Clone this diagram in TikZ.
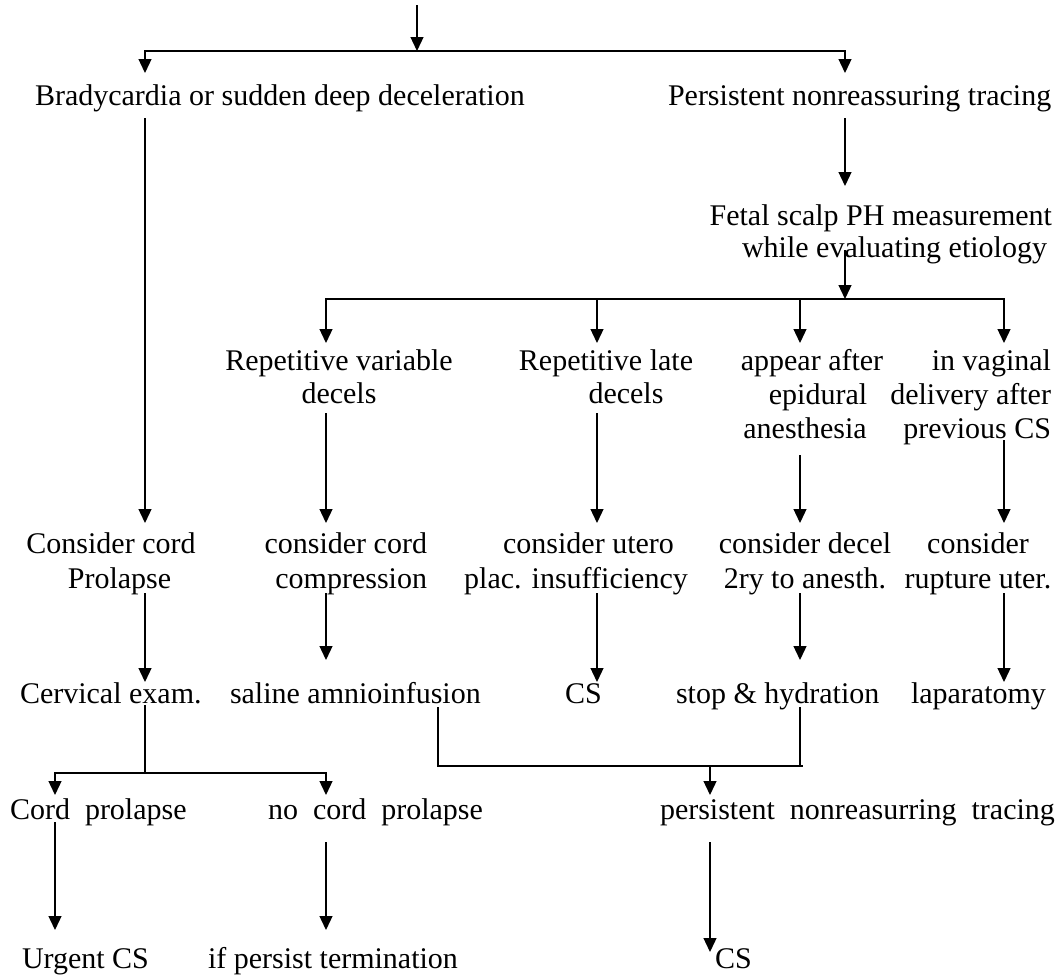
\documentclass[tikz,border=0pt]{standalone}
\usepackage{fontspec}
\setmainfont{Liberation Serif}
\usetikzlibrary{arrows.meta}
\begin{document}
\begin{tikzpicture}[x=1pt,y=-1pt,
  txt/.style={inner sep=0pt,outer sep=0pt,font=\fontsize{30}{33}\selectfont},
  txtw/.style={inner sep=0pt,outer sep=0pt,font=\fontsize{30}{35}\selectfont},
  ln/.style={line width=1.3pt},
  arr/.style={line width=1.3pt,-{Triangle[length=14pt,width=13pt]}}]
\useasboundingbox[fill=white] (0,0) rectangle (1058,977);

% ---------- nodes (multi-line nodes are placed by their last baseline) ----------
\node[txt,anchor=base west] (brady) at (35,105) {Bradycardia or sudden deep deceleration};
\node[txt,anchor=base west] (pers) at (668,105) {Persistent nonreassuring tracing};
\node[txt,anchor=base east,align=right,font=\fontsize{30}{32}\selectfont] (fetal) at (1052,257) {Fetal scalp PH measurement\\while evaluating etiology\hspace*{5pt}};

\node[txt,anchor=base,align=center] (rv) at (339,403) {Repetitive variable\\decels};
\node[txt,anchor=base,align=center] (rl) at (606,403) {Repetitive late\\\hspace*{40pt}decels};
\node[txt,anchor=base,align=center,font=\fontsize{30}{34}\selectfont] (ae) at (812,438) {appear after\\\hspace*{12pt}epidural\\anesthesia\hspace*{14pt}};
\node[txt,anchor=base east,align=right,font=\fontsize{30}{34}\selectfont] (iv) at (1051,438) {in vaginal\\delivery after\\previous CS};

\node[txtw,anchor=base,align=center] (ccp) at (111,588) {Consider cord\\\hspace*{17pt}Prolapse};
\node[txtw,anchor=base east,align=right] (ccc) at (427,588) {consider cord\\compression};
\node[txtw,anchor=base,align=center] (cu) at (576,588) {\hspace*{25pt}consider utero\\plac. insufficiency};
\node[txtw,anchor=base,align=center] (cd) at (805,588) {consider decel\\2ry to anesth.};
\node[txtw,anchor=base,align=center] (cr) at (978,588) {consider\\rupture uter.};

\node[txt,anchor=base west] (cerv) at (20,703) {Cervical exam.};
\node[txt,anchor=base west] (saline) at (230,703) {saline amnioinfusion};
\node[txt,anchor=base west] (cs1) at (565,703) {CS};
\node[txt,anchor=base west] (stop) at (676,703) {stop \& hydration};
\node[txt,anchor=base west] (lapa) at (911,703) {laparatomy};

\node[txt,anchor=base west] (cordp) at (10,819) {Cord\ \ prolapse};
\node[txt,anchor=base west] (nocord) at (268,819) {no\ \ cord\ \ prolapse};
\node[txt,anchor=base west] (pnt) at (660,819) {persistent\ \ nonreasurring\ \ tracing};

\node[txt,anchor=base west] (urgent) at (22,968) {Urgent CS};
\node[txt,anchor=base west] (term) at (208,968) {if persist termination};
\node[txt,anchor=base west] (cs2) at (715,968) {CS};

% ---------- connector points ----------
\coordinate (top) at (417,5);
\coordinate (jTop) at (417,51);
\coordinate (inB) at (145,73);
\coordinate (inP) at (845,73);
\coordinate (outP) at (845,118);
\coordinate (inF) at (845,186);
\coordinate (outF) at (845,250);
\coordinate (jF) at (845,299);
\coordinate (jRL) at (597,299);
\coordinate (jAE) at (800,299);
\coordinate (inRV) at (326,343);
\coordinate (inRL) at (597,343);
\coordinate (inAE) at (800,343);
\coordinate (inIV) at (1004,343);

\coordinate (outB) at (145,118);
\coordinate (inCCP) at (145,523);
\coordinate (outRV) at (326,413);
\coordinate (inCCC) at (326,523);
\coordinate (outRL) at (597,413);
\coordinate (inCU) at (597,523);
\coordinate (outAE) at (800,455);
\coordinate (inCD) at (800,523);
\coordinate (outIV) at (1004,440);
\coordinate (inCR) at (1004,523);

\coordinate (outCCP) at (145,593);
\coordinate (inCerv) at (145,682);
\coordinate (outCCC) at (326,593);
\coordinate (inSal) at (326,660);
\coordinate (outCU) at (597,593);
\coordinate (inCS1) at (597,682);
\coordinate (outCD) at (800,593);
\coordinate (inStop) at (800,660);
\coordinate (outCR) at (1004,593);
\coordinate (inLapa) at (1004,682);

\coordinate (outCerv) at (145,705);
\coordinate (jC) at (145,773);
\coordinate (inCordp) at (55,795);
\coordinate (inNoc) at (326,795);
\coordinate (outSal) at (438,707);
\coordinate (jS2) at (803,766);
\coordinate (outStop) at (800,707);
\coordinate (jS3) at (800,766);
\coordinate (jPN) at (710,766);
\coordinate (inPnt) at (710,795);

\coordinate (outCordp) at (55,822);
\coordinate (inUrg) at (55,930);
\coordinate (outNoc) at (326,842);
\coordinate (inTerm) at (326,930);
\coordinate (outPnt) at (710,842);
\coordinate (inCS2) at (710,952);

% ---------- connectors ----------
\draw[arr] (top) -- (jTop);
\draw[arr] (jTop) -| (inB);
\draw[arr] (jTop) -| (inP);
\draw[arr] (outP) -- (inF);
\draw[arr] (outF) -- (jF);
\draw[arr] (jF) -| (inRV);
\draw[arr] (jF) -| (inIV);
\draw[arr] (jRL) -- (inRL);
\draw[arr] (jAE) -- (inAE);

\draw[arr] (outB) -- (inCCP);
\draw[arr] (outRV) -- (inCCC);
\draw[arr] (outRL) -- (inCU);
\draw[arr] (outAE) -- (inCD);
\draw[arr] (outIV) -- (inCR);

\draw[arr] (outCCP) -- (inCerv);
\draw[arr] (outCCC) -- (inSal);
\draw[arr] (outCU) -- (inCS1);
\draw[arr] (outCD) -- (inStop);
\draw[arr] (outCR) -- (inLapa);

\draw[ln] (outCerv) -- (jC);
\draw[arr] (jC) -| (inCordp);
\draw[arr] (jC) -| (inNoc);
\draw[ln] (outSal) |- (jS2);
\draw[ln] (outStop) -- (jS3);
\draw[arr] (jPN) -- (inPnt);

\draw[arr] (outCordp) -- (inUrg);
\draw[arr] (outNoc) -- (inTerm);
\draw[arr] (outPnt) -- (inCS2);
\end{tikzpicture}
\end{document}
